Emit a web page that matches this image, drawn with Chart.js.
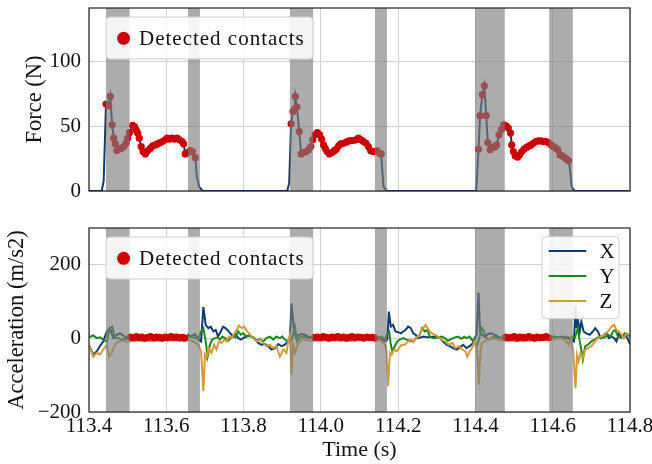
<!DOCTYPE html>
<html>
<head>
<meta charset="utf-8">
<script src="https://cdn.jsdelivr.net/npm/chart.js@4.4.1/dist/chart.umd.min.js"></script>
<style>
html,body{margin:0;padding:0;background:#fff;overflow:hidden}
.box{position:absolute;left:0;width:652px}
</style>
</head>
<body>
<div class="box" style="top:0;height:200px"><canvas id="forceChart"></canvas></div>
<div class="box" style="top:200px;height:264px"><canvas id="accChart"></canvas></div>
<script>
/* DATA */
const timeTicks = [113.4,113.6,113.8,114.0,114.2,114.4,114.6,114.8];
const forceTicks = [0,50,100];
const accTicks = [-200,0,200];

// grey phases
const spanStart = [113.444,113.656,113.920,114.140,114.399,114.591];
const spanEnd   = [113.505,113.687,113.980,114.171,114.476,114.652];

const forceT = [113.400,113.433,113.438,113.444,113.451,113.455,113.460,113.464,113.468,113.472,113.478,113.484,113.490,113.496,113.500,113.505,113.513,113.518,113.522,113.526,113.530,113.535,113.540,113.546,113.552,113.559,113.565,113.572,113.577,113.584,113.590,113.597,113.602,113.608,113.615,113.621,113.628,113.634,113.641,113.645,113.649,113.656,113.662,113.668,113.675,113.679,113.685,113.694,
  113.913,113.918,113.923,113.928,113.932,113.934,113.938,113.944,113.949,113.955,113.962,113.968,113.974,113.979,113.985,113.991,113.997,114.002,114.007,114.011,114.016,114.022,114.029,114.035,114.040,114.046,114.052,114.059,114.066,114.072,114.079,114.084,114.091,114.097,114.104,114.110,114.117,114.123,114.129,114.136,114.145,114.152,114.156,114.162,114.171,
  114.402,114.408,114.412,114.418,114.423,114.428,114.432,114.438,114.442,114.449,114.455,114.461,114.467,114.473,114.479,114.485,114.491,114.494,114.498,114.503,114.509,114.514,114.520,114.526,114.533,114.539,114.544,114.550,114.556,114.563,114.570,114.576,114.583,114.589,114.596,114.602,114.608,114.613,114.619,114.625,114.630,114.636,114.641,114.645,114.649,114.656,114.800];
const forceF = [0,0,8,67.0,65.7,72.9,51.0,40.7,36.3,31.2,32.2,33.0,34.2,36.8,40.7,45.0,50.5,49.7,47.1,44.6,40.7,34.2,30.4,28.6,31.2,33.0,34.8,35.5,36.3,37.3,38.1,39.4,40.7,40.0,40.7,40.0,40.7,39.4,38.1,36.3,28.6,29.6,31.1,30.4,25.7,11.0,3.3,0,
  0,6,51.8,61.3,63.1,72.9,64.7,45.8,28.6,29.6,30.4,31.7,34.2,39.4,43.3,45.0,43.3,40.0,35.5,33.0,30.4,28.6,29.6,31.1,32.2,34.8,36.3,36.8,37.6,38.6,38.9,38.9,39.4,40.7,39.4,38.1,36.8,34.2,31.1,30.4,31.1,29.1,28.6,3.3,0,
  0,32.2,58.0,74.2,81.1,58.0,37.3,31.7,33.8,33.8,35.5,43.3,47.1,51.0,50.2,48.5,44.6,35.5,30.4,27.0,26.0,27.8,30.4,32.2,33.8,34.8,35.5,36.8,38.1,38.6,38.6,38.1,38.1,37.3,35.5,34.2,33.0,31.7,27.8,27.0,26.0,24.5,23.4,16.2,3.3,0,0];

const accXT = [113.400,113.411,113.420,113.428,113.437,113.446,113.454,113.463,113.472,113.480,113.489,113.497,113.520,113.560,113.600,113.645,113.657,113.665,113.674,113.683,113.690,113.696,113.702,113.709,113.715,113.722,113.728,113.734,113.741,113.747,113.753,113.760,113.767,113.773,113.779,113.786,113.793,113.799,113.812,113.825,113.838,113.846,113.855,113.864,113.872,113.881,113.890,113.898,113.907,113.915,113.920,113.924,113.930,113.936,113.943,113.950,113.959,113.967,113.976,114.000,114.050,114.100,114.131,114.144,114.157,114.166,114.172,114.176,114.181,114.187,114.193,114.200,114.207,114.213,114.219,114.226,114.233,114.239,114.245,114.252,114.265,114.278,114.295,114.308,114.316,114.325,114.334,114.342,114.351,114.360,114.368,114.377,114.385,114.394,114.398,114.403,114.408,114.412,114.417,114.424,114.433,114.441,114.450,114.459,114.467,114.500,114.550,114.592,114.605,114.614,114.622,114.631,114.640,114.648,114.655,114.659,114.662,114.665,114.670,114.674,114.680,114.687,114.696,114.704,114.710,114.717,114.724,114.733,114.739,114.745,114.752,114.759,114.765,114.771,114.778,114.786,114.793,114.800];
const accX = [-20,-45,-36,-22,-9,18,27,0,9,13,7,0,2,-2,1,-1,9,4,11,-4,-9,84,36,27,31,18,22,4,18,31,27,20,11,4,11,0,-4,0,7,2,-13,-18,-16,-22,-31,-27,-16,-22,-18,-9,0,94,27,0,9,11,9,4,2,1,-1,1,0,4,-4,-9,-4,72,31,36,18,16,13,18,22,31,27,13,9,0,4,2,4,0,-9,-18,-22,-27,-31,-25,-18,-27,-22,-13,0,9,123,18,9,4,11,13,9,4,0,1,-1,0,4,2,4,0,2,-4,-9,87,27,49,18,45,18,13,9,18,27,18,0,9,13,0,4,0,-9,13,4,9,0,-16];

const accYT = [113.400,113.411,113.420,113.428,113.437,113.446,113.454,113.460,113.467,113.476,113.484,113.497,113.550,113.600,113.645,113.657,113.670,113.683,113.690,113.696,113.702,113.707,113.713,113.719,113.726,113.733,113.739,113.745,113.752,113.760,113.767,113.773,113.779,113.786,113.793,113.799,113.808,113.816,113.825,113.834,113.842,113.851,113.859,113.868,113.877,113.885,113.894,113.900,113.907,113.914,113.920,113.926,113.933,113.939,113.946,113.954,113.967,114.000,114.050,114.100,114.131,114.144,114.157,114.166,114.172,114.177,114.181,114.185,114.191,114.198,114.204,114.213,114.222,114.230,114.239,114.247,114.256,114.262,114.269,114.276,114.282,114.291,114.303,114.312,114.321,114.329,114.338,114.347,114.355,114.364,114.371,114.377,114.385,114.394,114.405,114.411,114.417,114.422,114.428,114.437,114.446,114.454,114.467,114.500,114.550,114.592,114.605,114.618,114.631,114.644,114.653,114.657,114.661,114.665,114.670,114.674,114.678,114.684,114.691,114.700,114.709,114.717,114.726,114.734,114.743,114.750,114.756,114.762,114.769,114.778,114.786,114.793,114.800];
const accY = [2,7,0,2,-4,-9,27,31,0,0,-4,-2,0,1,0,4,2,-2,18,27,-9,-50,-18,-4,0,2,-4,4,0,-7,0,9,2,18,9,13,4,7,2,-7,-2,-9,0,4,-4,4,0,4,-4,-9,-13,0,31,-9,2,4,0,0,1,-1,2,0,4,-4,13,18,-18,-36,-22,-9,-4,0,-4,-7,-9,0,9,27,18,22,4,0,2,4,0,-7,-2,2,4,-2,4,0,4,-9,-18,4,27,18,0,-4,4,2,0,1,-1,2,4,0,4,-4,4,0,13,27,-9,-31,-58,-22,-18,-9,-4,2,0,2,9,4,18,22,4,0,13,9,4];

const accZT = [113.400,113.411,113.420,113.428,113.437,113.446,113.452,113.459,113.467,113.476,113.484,113.497,113.530,113.570,113.610,113.645,113.657,113.670,113.683,113.690,113.696,113.700,113.704,113.710,113.717,113.724,113.730,113.736,113.743,113.750,113.756,113.762,113.769,113.776,113.782,113.788,113.795,113.802,113.808,113.814,113.821,113.825,113.834,113.842,113.851,113.859,113.868,113.877,113.885,113.894,113.903,113.911,113.917,113.920,113.924,113.928,113.933,113.940,113.946,113.954,113.967,113.984,114.030,114.080,114.131,114.144,114.157,114.166,114.170,114.174,114.179,114.183,114.190,114.196,114.202,114.209,114.217,114.226,114.233,114.239,114.245,114.252,114.259,114.265,114.271,114.276,114.282,114.288,114.295,114.303,114.312,114.322,114.331,114.340,114.348,114.357,114.366,114.374,114.379,114.385,114.391,114.398,114.404,114.409,114.413,114.417,114.424,114.433,114.441,114.459,114.476,114.520,114.560,114.592,114.605,114.618,114.631,114.641,114.647,114.653,114.659,114.663,114.667,114.672,114.678,114.684,114.691,114.700,114.709,114.717,114.726,114.734,114.743,114.752,114.759,114.765,114.771,114.778,114.784,114.791,114.800];
const accZ = [-18,-50,-40,-45,-31,-18,-50,-40,-18,-9,-7,-9,-7,-8,-6,-8,-4,-9,-18,-36,-144,-45,-54,-27,-40,-18,-31,-9,-13,-4,-9,4,0,11,22,34,27,31,20,13,4,0,-9,-4,-13,-22,-18,-27,-22,-50,-31,-40,0,9,-99,-18,-40,-18,-9,-4,-7,-7,-6,-8,0,2,-9,-18,-36,-130,-40,-45,-31,-36,-27,-18,-18,-9,-4,-9,0,4,18,27,36,27,18,13,9,4,-4,-9,-18,-13,-27,-22,-31,-36,-50,-36,-27,-9,-27,-126,-36,-13,-9,-4,-2,-4,-7,-8,-6,-4,-4,0,-4,-18,0,-36,-135,-45,-63,-40,-54,-31,-27,-22,-9,0,4,9,18,31,36,22,18,9,0,13,9];

// detected contacts on the acceleration plot
const dotT = [113.507,113.514,113.522,113.529,113.537,113.544,113.552,113.559,113.567,113.574,113.582,113.589,113.597,113.604,113.612,113.619,113.627,113.634,113.642,113.648,
  113.984,113.991,113.999,114.006,114.014,114.021,114.029,114.036,114.044,114.051,114.059,114.066,114.074,114.081,114.089,114.096,114.104,114.111,114.119,114.126,114.134,114.140,
  114.478,114.485,114.493,114.500,114.508,114.515,114.523,114.530,114.538,114.545,114.553,114.560,114.568,114.575,114.583,114.590];
const dotA = [3,1,4,2,3,0,2,4,1,3,2,0,3,1,4,2,3,1,2,0,
  2,3,1,4,2,0,3,2,4,1,3,0,2,4,1,3,2,0,3,1,2,0,
  3,1,2,4,0,3,2,1,4,2,0,3,1,2,4,1];

/* STYLE */
const FONT = "'Liberation Serif','Times New Roman',serif";
Chart.defaults.font.family = FONT;
Chart.defaults.font.size = 21;
Chart.defaults.color = "#111";
const GRID = "#d2d2d2";
const RED = "#cc0000";
const COL = {X:"#0f3a72", Y:"#168a16", Z:"#d49a3c"};

const pts = (t,v) => t.map((x,i)=>({x:x,y:v[i]}));

function roundBox(ctx,x,y,w,h){
  ctx.beginPath(); ctx.roundRect(x,y,w,h,4);
  ctx.fillStyle="rgba(255,255,255,0.88)"; ctx.fill();
  ctx.strokeStyle="#cfcfcf"; ctx.lineWidth=1; ctx.stroke();
}

/* SPANS + FRAME + LEGENDS */
const overlay = {
  id:"overlay",
  afterDatasetsDraw(chart, args, opts){
    const {ctx, chartArea:a, scales:{x}} = chart;
    ctx.save();
    ctx.beginPath(); ctx.rect(a.left,a.top,a.width,a.height); ctx.clip();
    ctx.fillStyle = "rgba(125,125,125,0.64)";
    spanStart.forEach((s,i)=>{
      const x0 = x.getPixelForValue(s), x1 = x.getPixelForValue(spanEnd[i]);
      ctx.fillRect(x0, a.top, x1-x0, a.height);
    });
    ctx.restore();

    ctx.save();
    ctx.strokeStyle = "#222"; ctx.lineWidth = 1.2;
    ctx.strokeRect(a.left, a.top, a.width, a.height);

    ctx.font = "21px " + FONT;
    ctx.textBaseline = "middle";
    roundBox(ctx, a.left+17, a.top+9, 207, 42);
    ctx.beginPath(); ctx.arc(a.left+34.6, a.top+30.3, 6.5, 0, Math.PI*2);
    ctx.fillStyle = RED; ctx.fill();
    ctx.fillStyle = "#111";
    ctx.letterSpacing = "1px";
    ctx.fillText("Detected contacts", a.left+50, a.top+31);
    ctx.letterSpacing = "0px";

    if (opts.xyz){
      roundBox(ctx, a.left+453, a.top+8.7, 77, 82);
      ["X","Y","Z"].forEach((k,i)=>{
        const y = a.top + 23 + i*25;
        ctx.strokeStyle = COL[k]; ctx.lineWidth = 2.2;
        ctx.beginPath(); ctx.moveTo(a.left+459.6,y); ctx.lineTo(a.left+497.3,y); ctx.stroke();
        ctx.fillStyle = "#111"; ctx.fillText(k, a.left+510.6, y+1);
      });
    }
    ctx.restore();
  }
};

function xScale(labels){
  return {
    type:"linear", min:113.4, max:114.8,
    afterBuildTicks: s => { s.ticks = timeTicks.map(v=>({value:v})); },
    ticks:{display:labels, padding:2, maxRotation:0, autoSkip:false, callback:v=>v.toFixed(1)},
    grid:{color:GRID, lineWidth:1, drawTicks:false},
    border:{display:false},
    title:{display:labels, text:"Time (s)", font:{size:22}, padding:{top:0,bottom:1}},
    afterFit: s => { s.height = labels ? 52 : 9; s.paddingLeft = 0; s.paddingRight = 0; }
  };
}
function yScale(min,max,tk,title,pad){
  return {
    min:min, max:max,
    afterBuildTicks: s => { s.ticks = tk.map(v=>({value:v})); },
    ticks:{padding:8, callback:v=>String(v).replace("-","\u2212")},
    grid:{color:GRID, lineWidth:1, drawTicks:false},
    border:{display:false},
    title:{display:true, text:title, font:{size:22.5}, padding:{top:pad,bottom:0}},
    afterFit: s => { s.width = 89; s.paddingTop = 0; s.paddingBottom = 0; }
  };
}
const base = {
  responsive:true, maintainAspectRatio:false, animation:false,
  plugins:{legend:{display:false}, tooltip:{enabled:false}}
};

/* FORCE */
const forceDots = pts(forceT, forceF).filter(p => p.y > 20);
new Chart(document.getElementById("forceChart"),{
  type:"scatter",
  data:{datasets:[
    {data:forceDots, pointRadius:3.6, pointBackgroundColor:RED, pointBorderWidth:0, showLine:false, order:0},
    {data:pts(forceT, forceF), showLine:true, borderColor:"#143a6a", borderWidth:2, pointRadius:0, order:1}
  ]},
  options:{...base,
    layout:{padding:{top:8,right:22,left:0,bottom:0}},
    plugins:{...base.plugins, overlay:{xyz:false}},
    scales:{x:xScale(false), y:yScale(0,141,forceTicks,"Force (N)",22)}
  },
  plugins:[overlay]
});

/* ACCELERATION */
new Chart(document.getElementById("accChart"),{
  type:"scatter",
  data:{datasets:[
    {data:pts(dotT, dotA), pointRadius:3.6, pointBackgroundColor:RED, pointBorderWidth:0, showLine:false, order:0},
    {label:"Z", data:pts(accZT, accZ), showLine:true, borderColor:COL.Z, borderWidth:2, pointRadius:0, order:1},
    {label:"Y", data:pts(accYT, accY), showLine:true, borderColor:COL.Y, borderWidth:2, pointRadius:0, order:2},
    {label:"X", data:pts(accXT, accX), showLine:true, borderColor:COL.X, borderWidth:2, pointRadius:0, order:3}
  ]},
  options:{...base,
    layout:{padding:{top:28,right:22,left:0,bottom:0}},
    plugins:{...base.plugins, overlay:{xyz:true}},
    scales:{x:xScale(true), y:yScale(-200,298,accTicks,"Acceleration (m/s2)",4)}
  },
  plugins:[overlay]
});
</script>
</body>
</html>
